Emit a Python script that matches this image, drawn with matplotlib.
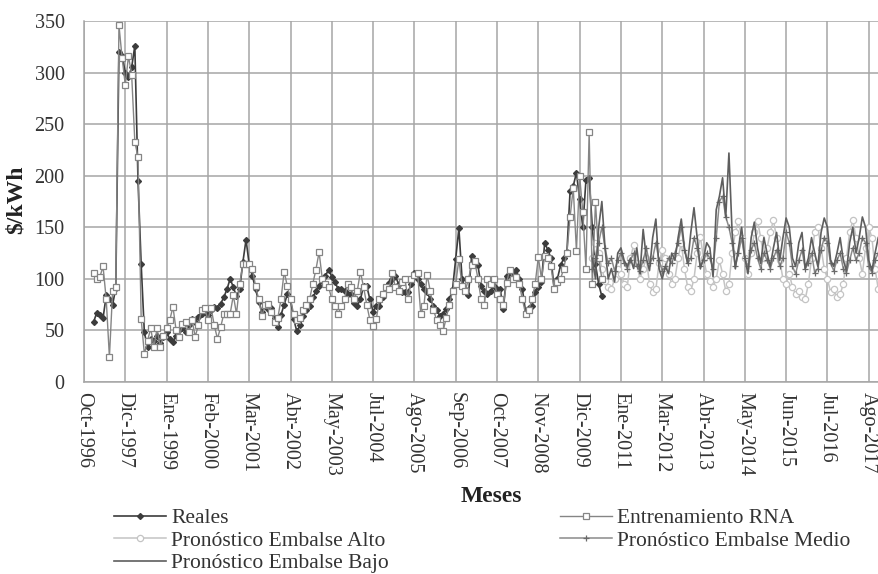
import matplotlib
matplotlib.use("Agg")
import matplotlib.pyplot as plt

# ---------------- data ----------------
tick_labels = ["Oct-1996", "Dic-1997", "Ene-1999", "Feb-2000", "Mar-2001", "Abr-2002",
               "May-2003", "Jul-2004", "Ago-2005", "Sep-2006", "Oct-2007", "Nov-2008",
               "Dic-2009", "Ene-2011", "Mar-2012", "Abr-2013", "May-2014", "Jun-2015",
               "Jul-2016", "Ago-2017"]

hist_start = 3  # month index of first historical value
reales = [58, 67, 65, 62, 84, 80, 75, 91, 320, 316, 300, 296, 305, 326, 195, 114,
          48, 34, 42, 40, 45, 38, 44, 48, 42, 39, 45, 50, 52, 48, 55, 61, 58, 63, 66, 69,
          65, 70, 73, 72, 76, 82, 90, 100, 92, 83, 90, 116, 138, 114, 103, 90, 78, 68,
          74, 71, 72, 62, 53, 65, 75, 85, 80, 61, 49, 55, 64, 70, 74, 82, 88, 93, 98, 103,
          109, 102, 97, 90, 90, 88, 85, 85, 77, 74, 80, 93, 93, 80, 68, 74, 74, 82, 90, 96,
          100, 103, 95, 87, 87, 87, 95, 106, 100, 95, 90, 87, 80, 74, 70, 64, 66, 71, 80, 90,
          119, 149, 100, 90, 84, 122, 113, 113, 93, 88, 85, 88, 93, 90, 90, 71, 103, 106,
          106, 109, 100, 90, 68, 72, 74, 87, 92, 97, 135, 128, 120, 90, 100, 113, 120, 126,
          185, 190, 203, 177, 150, 196, 198, 150, 114, 95, 83]

entrenamiento = [106, 100, 102, 112, 80, 24, 88, 92, 346, 314, 288, 316, 298, 233, 218, 61,
                 27, 40, 52, 34, 52, 34, 45, 52, 60, 73, 50, 44, 56, 58, 48, 60, 44, 55, 70, 72,
                 60, 72, 55, 42, 53, 66, 66, 66, 84, 66, 95, 114, 114, 114, 110, 93, 80, 64,
                 75, 76, 68, 58, 62, 80, 107, 93, 80, 66, 60, 62, 70, 75, 80, 95, 109, 126, 100, 95,
                 92, 80, 74, 66, 74, 80, 95, 92, 80, 88, 107, 92, 75, 60, 54, 61, 80, 85, 92, 90,
                 106, 92, 88, 97, 100, 80, 100, 104, 106, 66, 74, 104, 88, 70, 60, 55, 49, 62, 75, 88,
                 95, 119, 93, 88, 100, 113, 117, 100, 80, 75, 100, 95, 100, 85, 80, 75, 96, 109,
                 100, 102, 95, 80, 66, 70, 80, 95, 121, 100, 122, 120, 112, 90, 97, 100, 110, 125,
                 160, 188, 127, 200, 165, 110, 242, 95, 175, 120, 100]

fc_start = 160  # month index of first forecast value
embalse_alto = [120, 135, 125, 110, 98, 92, 90, 100, 110, 105, 95, 92, 120, 133, 115, 100,
                110, 120, 95, 87, 90, 115, 128, 120, 105, 95, 100, 120, 135, 110, 92, 88,
                100, 125, 141, 120, 105, 98, 92, 100, 118, 105, 88, 95, 125, 145, 156, 140,
                120, 105, 125, 145, 156, 140, 120, 130, 145, 157, 140, 118, 100, 95, 105, 92,
                85, 88, 82, 80, 95, 120, 145, 150, 130, 110, 100, 87, 90, 82, 85, 95, 120,
                145, 157, 140, 120, 105, 130, 150, 140, 110, 90]

embalse_medio = [110, 120, 135, 150, 130, 115, 120, 108, 118, 125, 115, 110, 118, 125, 112, 108,
                 118, 130, 115, 120, 135, 118, 108, 112, 120, 115, 125, 135, 150, 128, 115, 120,
                 140, 130, 112, 118, 125, 120, 110, 140, 175, 180, 160, 150, 135, 112, 125, 140,
                 120, 112, 128, 135, 120, 110, 125, 118, 110, 120, 128, 112, 120, 145, 135, 112,
                 105, 118, 128, 110, 115, 125, 106, 110, 128, 140, 135, 115, 108, 118, 125, 110,
                 106, 118, 130, 118, 125, 140, 135, 112, 106, 118, 125]

embalse_bajo = [120, 100, 150, 175, 130, 100, 110, 97, 125, 130, 118, 112, 120, 110, 130, 105,
                148, 120, 108, 140, 158, 110, 100, 112, 105, 125, 118, 140, 158, 130, 115, 145,
                169, 140, 110, 120, 135, 130, 102, 167, 180, 198, 160, 222, 145, 110, 130, 150,
                120, 105, 140, 155, 130, 115, 140, 125, 112, 130, 145, 118, 140, 159, 150, 120,
                112, 135, 145, 110, 120, 140, 125, 112, 145, 159, 150, 118, 112, 125, 140, 118,
                108, 135, 150, 125, 140, 160, 150, 118, 108, 125, 140]

tick_step = 13

# ---------------- style ----------------
serif = ["Liberation Serif", "DejaVu Serif"]
plt.rcParams["font.family"] = serif

W, H = 879, 574
fig = plt.figure(figsize=(W / 100, H / 100), dpi=100)
left, right_px, top_px, bottom_px = 84, 879, 21, 382
ax = fig.add_axes([left / W, 1 - bottom_px / H, (right_px - left) / W, (bottom_px - top_px) / H])

grid_c = "#a6a6a6"
txt_c = "#333333"

x_hist_r = list(range(hist_start, hist_start + len(reales)))
x_hist_e = list(range(hist_start, hist_start + len(entrenamiento)))
x_fc = list(range(fc_start, fc_start + len(embalse_alto)))

l_real, = ax.plot(x_hist_r, reales, color="#3c3c3c", lw=1.2, marker="D", ms=3,
                  mfc="#3c3c3c", mec="#3c3c3c", label="Reales", zorder=3)
l_ent, = ax.plot(x_hist_e, entrenamiento, color="#858585", lw=1.0, marker="s", ms=5,
                 mfc="white", mec="#858585", mew=0.9, label="Entrenamiento RNA", zorder=4)
l_alto, = ax.plot(x_fc, embalse_alto, color="#c4c4c4", lw=1.1, marker="o", ms=4.5,
                  mfc="white", mec="#c4c4c4", mew=0.9, label="Pronóstico Embalse Alto", zorder=3)
l_medio, = ax.plot(x_fc, embalse_medio, color="#8a8a8a", lw=1.1, marker="+", ms=5,
                   mec="#6a6a6a", mew=0.9, label="Pronóstico Embalse Medio", zorder=4)
l_bajo, = ax.plot(x_fc, embalse_bajo, color="#5e5e5e", lw=1.2,
                  label="Pronóstico Embalse Bajo", zorder=5)

ax.set_xlim(0, (right_px - left) / 3.177)
ax.set_ylim(0, 350)
ax.set_yticks(range(0, 351, 50))
ticks = [i * tick_step for i in range(len(tick_labels))]
ax.set_xticks(ticks)
ax.set_xticklabels(tick_labels, rotation=270, fontsize=14.5, color=txt_c)
ax.tick_params(axis="y", labelsize=14.5, labelcolor=txt_c, length=0, pad=14)
ax.tick_params(axis="x", length=0, pad=7)

ax.grid(True, color=grid_c, lw=1.1)
ax.set_axisbelow(True)
for s in ["top", "right"]:
    ax.spines[s].set_visible(False)
for s in ["left", "bottom"]:
    ax.spines[s].set_color(grid_c)
    ax.spines[s].set_linewidth(1.1)

fig.text(491 / W, 1 - 496 / H, "Meses", ha="center", va="center",
         fontsize=17, fontweight="bold", color="#222222")
fig.text(16 / W, 1 - 200 / H, "$/kWh", ha="center", va="center", rotation=90,
         fontsize=17, fontweight="bold", color="#222222")

leg_kw = dict(frameon=False, fontsize=15.5, handlelength=2.4, handletextpad=0.25,
              labelspacing=0.12, borderpad=0, borderaxespad=0, loc="upper left")
leg1 = fig.legend([l_real, l_alto, l_bajo],
                  [l_real.get_label(), l_alto.get_label(), l_bajo.get_label()],
                  bbox_to_anchor=(114 / W, 1 - 508 / H), **leg_kw)
for t in leg1.get_texts():
    t.set_color(txt_c)
leg2 = fig.legend([l_ent, l_medio],
                  [l_ent.get_label(), l_medio.get_label()],
                  bbox_to_anchor=(560 / W, 1 - 508 / H), **leg_kw)
for t in leg2.get_texts():
    t.set_color(txt_c)

fig.savefig("out.png", dpi=100)
